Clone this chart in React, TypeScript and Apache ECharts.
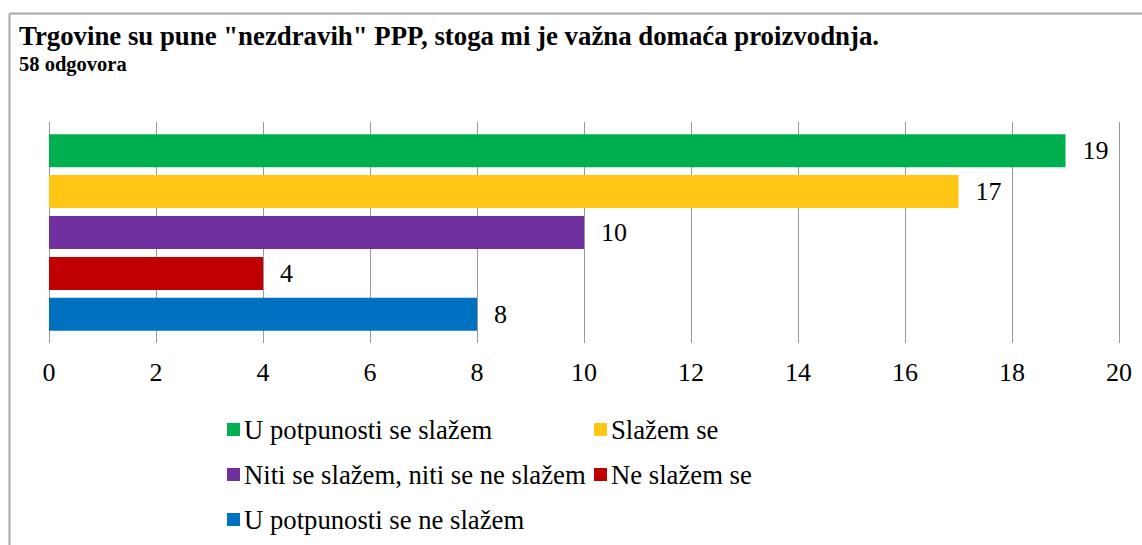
import React, { useEffect, useRef } from "react";
import * as echarts from "echarts";

const titleText = 'Trgovine su pune "nezdravih" PPP, stoga mi je važna domaća proizvodnja.';
const subtitleText = "58 odgovora";
const seriesNames = [
  "U potpunosti se slažem",
  "Slažem se",
  "Niti se slažem, niti se ne slažem",
  "Ne slažem se",
  "U potpunosti se ne slažem",
];
const seriesValues = [19, 17, 10, 4, 8];
const seriesColors = ["#00b050", "#ffc616", "#7030a0", "#c00000", "#0070c0"];
const category = ["odgovori"];
const legendPos = [
  { left: 227, top: 416 },
  { left: 594, top: 416 },
  { left: 227, top: 461 },
  { left: 594, top: 461 },
  { left: 227, top: 506 },
];

const FONT = "Liberation Serif";

export default function App() {
  const ref = useRef<HTMLDivElement>(null);
  useEffect(() => {
    if (!ref.current) return;
    const chart = echarts.init(ref.current, null, { renderer: "svg" });
    chart.setOption({
      animation: false,
      backgroundColor: "#ffffff",
      title: [
        {
          text: titleText,
          left: 19,
          top: 22,
          padding: 0,
          textStyle: { fontFamily: FONT, fontSize: 26.8, fontWeight: "bold", color: "#000" },
        },
        {
          text: subtitleText,
          left: 19,
          top: 53,
          padding: 0,
          textStyle: { fontFamily: FONT, fontSize: 20.5, fontWeight: "bold", color: "#000" },
        },
      ],
      legend: seriesNames.map((n, i) => ({
        data: [n],
        left: legendPos[i].left,
        top: legendPos[i].top,
        padding: 0,
        icon: "rect",
        itemWidth: 13,
        itemHeight: 13,
        itemGap: 0,
        selectedMode: false,
        textStyle: { fontFamily: FONT, fontSize: 26.7, fontWeight: "normal", color: "#000", padding: [0, 0, 0, -1] },
      })),
      grid: { left: 49, right: 23, top: 122, bottom: 202, containLabel: false },
      xAxis: {
        type: "value",
        min: 0,
        max: 20,
        interval: 2,
        axisLine: { show: false },
        axisTick: { show: false },
        axisLabel: { fontFamily: FONT, fontSize: 26, color: "#000", margin: 16 },
        splitLine: { show: true, lineStyle: { color: "#999", width: 1 } },
      },
      yAxis: {
        type: "category",
        data: category,
        inverse: true,
        axisLine: { show: false },
        axisTick: { show: false },
        axisLabel: { show: false },
      },
      series: seriesNames.map((n, i) => ({
        name: n,
        type: "bar",
        data: [seriesValues[i]],
        barWidth: 33,
        barGap: "24%",
        itemStyle: { color: seriesColors[i] },
        label: {
          show: true,
          position: "right",
          distance: 17,
          fontFamily: FONT,
          fontSize: 26,
          fontWeight: "normal",
          color: "#000",
        },
      })),
      graphic: [
        { type: "line", shape: { x1: 9.5, y1: 13.5, x2: 1142, y2: 13.5 }, style: { stroke: "#a6a6a6", lineWidth: 2 } },
        { type: "line", shape: { x1: 9.5, y1: 13.5, x2: 9.5, y2: 545 }, style: { stroke: "#a6a6a6", lineWidth: 2 } },
      ],
    });
    return () => chart.dispose();
  }, []);
  return (
    <div
      ref={ref}
      style={{ position: "fixed", left: 0, top: 0, width: 1142, height: 545, background: "#fff" }}
    />
  );
}
